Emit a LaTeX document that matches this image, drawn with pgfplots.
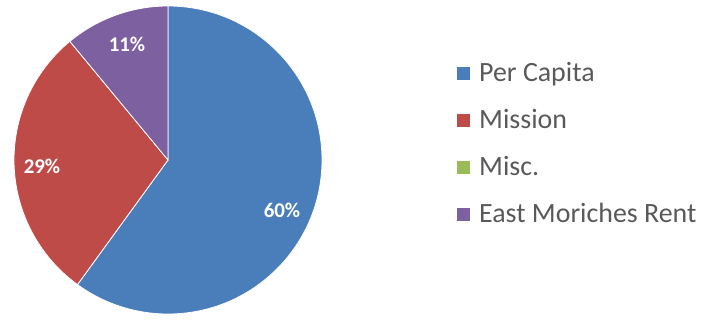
\documentclass[border=0pt]{standalone}
\usepackage{pgfplots}
\usepackage{pgfplotstable}
\pgfplotsset{compat=1.18}
\usepackage{fontspec}
\setmainfont{Carlito}
\definecolor{pcblue}{HTML}{4A7EBB}
\definecolor{mired}{HTML}{BE4B48}
\definecolor{mgreen}{HTML}{9BBB59}
\definecolor{empurple}{HTML}{7D60A0}
\definecolor{legtext}{HTML}{595959}
\pgfplotstableread{
name value
PerCapita 60
Mission 29
Misc 0
EastMoriches 11
}\piedata
\pgfplotstablegetelem{0}{value}\of\piedata \let\vA\pgfplotsretval
\pgfplotstablegetelem{1}{value}\of\piedata \let\vB\pgfplotsretval
\pgfplotstablegetelem{2}{value}\of\piedata \let\vC\pgfplotsretval
\pgfplotstablegetelem{3}{value}\of\piedata \let\vD\pgfplotsretval
\pgfmathsetmacro{\aA}{90-3.6*\vA}
\pgfmathsetmacro{\aB}{\aA-3.6*\vB}
\pgfmathsetmacro{\aC}{\aB-3.6*\vC}
\pgfmathsetmacro{\aD}{\aC-3.6*\vD}
\begin{document}
\begin{tikzpicture}
\useasboundingbox (0,0) rectangle (701bp,320bp);
\begin{axis}[
  width=701bp, height=320bp, scale only axis,
  xmin=0, xmax=701, ymin=0, ymax=320,
  hide axis, clip=false,
]
\fill[pcblue, draw=white, line width=0.8pt] (axis cs:168,160) -- ([shift={(90:154bp)}]axis cs:168,160) arc[start angle=90, end angle=\aA, radius=154bp] -- cycle;
\fill[mired, draw=white, line width=0.8pt] (axis cs:168,160) -- ([shift={(\aA:154bp)}]axis cs:168,160) arc[start angle=\aA, end angle=\aB, radius=154bp] -- cycle;
\fill[empurple, draw=white, line width=0.8pt] (axis cs:168,160) -- ([shift={(\aC:154bp)}]axis cs:168,160) arc[start angle=\aC, end angle=\aD, radius=154bp] -- cycle;
\node[white, font=\fontsize{21}{24}\selectfont\bfseries] at (axis cs:282,110) {60\%};
\node[white, font=\fontsize{21}{24}\selectfont\bfseries] at (axis cs:42,154) {29\%};
\node[white, font=\fontsize{21}{24}\selectfont\bfseries] at (axis cs:127,276) {11\%};
% legend
\fill[pcblue] (axis cs:457,240) rectangle (axis cs:470,253);
\fill[mired] (axis cs:457,193) rectangle (axis cs:470,206);
\fill[mgreen] (axis cs:457,146) rectangle (axis cs:470,159);
\fill[empurple] (axis cs:457,99) rectangle (axis cs:470,112);
\node[legtext, anchor=base west, inner sep=0pt, font=\fontsize{28}{31}\selectfont] at (axis cs:479,239) {Per Capita};
\node[legtext, anchor=base west, inner sep=0pt, font=\fontsize{28}{31}\selectfont] at (axis cs:479,192) {Mission};
\node[legtext, anchor=base west, inner sep=0pt, font=\fontsize{28}{31}\selectfont] at (axis cs:479,145) {Misc.};
\node[legtext, anchor=base west, inner sep=0pt, font=\fontsize{28}{31}\selectfont] at (axis cs:479,98) {East Moriches Rent};
\end{axis}
\end{tikzpicture}
\end{document}
